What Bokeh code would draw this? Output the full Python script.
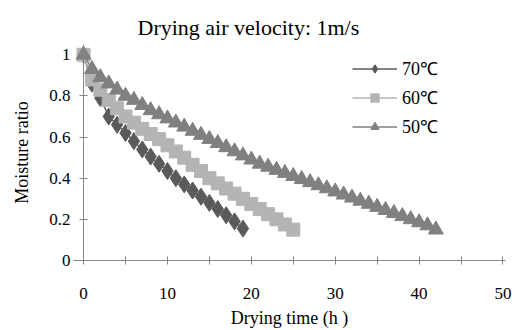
from bokeh.plotting import figure
from bokeh.models import FixedTicker, Range1d, Legend, LegendItem, LinearAxis
from bokeh.embed import file_html
from bokeh.resources import INLINE

hours_70 = list(range(0, 20))
mr_70 = [1.0, 0.86, 0.79, 0.70, 0.66, 0.62, 0.58, 0.54, 0.505, 0.47, 0.435,
         0.40, 0.37, 0.34, 0.31, 0.28, 0.25, 0.22, 0.19, 0.155]

hours_60 = list(range(0, 26))
mr_60 = [1.0, 0.88, 0.83, 0.78, 0.74, 0.70, 0.67, 0.64, 0.615, 0.59, 0.56,
         0.53, 0.50, 0.465, 0.435, 0.40, 0.375, 0.35, 0.325, 0.30, 0.275,
         0.25, 0.225, 0.20, 0.175, 0.15]

hours_50 = list(range(0, 43))
mr_50 = [1.0, 0.93, 0.89, 0.86, 0.83, 0.80, 0.78, 0.755, 0.73, 0.71, 0.69,
         0.67, 0.65, 0.63, 0.61, 0.59, 0.57, 0.55, 0.53, 0.51, 0.49, 0.47,
         0.455, 0.44, 0.425, 0.41, 0.395, 0.38, 0.365, 0.35, 0.335, 0.32,
         0.305, 0.29, 0.275, 0.26, 0.245, 0.23, 0.215, 0.20, 0.185, 0.17, 0.15]

series_labels = ["70\u2103", "60\u2103", "50\u2103"]
x_ticks = [0, 10, 20, 30, 40, 50]
x_minor = [5, 15, 25, 35, 45]
y_ticks = [0, 0.2, 0.4, 0.6, 0.8, 1]
y_tick_labels = ["0", "0.2", "0.4", "0.6", "0.8", "1"]

FONT = "Liberation Serif"
AXIS_COL = "#868686"

p = figure(width=516, height=330, output_backend="svg", toolbar_location=None,
           x_range=Range1d(-1.2, 50.3), y_range=Range1d(0, 1.05),
           min_border_left=73, min_border_right=11, min_border_top=44,
           min_border_bottom=69)
p.outline_line_color = None
p.grid.visible = False
p.background_fill_color = "white"

p.title.text = "Drying air velocity: 1m/s"
p.title.text_font = FONT
p.title.text_font_style = "normal"
p.title.text_font_size = "22px"
p.title.align = "left"
p.title.offset = 64
p.title.text_color = "#000000"

# x axis
xa = p.xaxis[0]
xa.ticker = FixedTicker(ticks=x_ticks, minor_ticks=x_minor)
xa.axis_line_color = AXIS_COL
xa.major_tick_line_color = AXIS_COL
xa.minor_tick_line_color = AXIS_COL
xa.major_tick_in = 4
xa.major_tick_out = 4
xa.minor_tick_in = 4
xa.minor_tick_out = 4
xa.major_label_text_font = FONT
xa.major_label_text_font_size = "17px"
xa.major_label_text_color = "#000000"
xa.axis_label = "Drying time (h )"
xa.axis_label_text_font = FONT
xa.axis_label_text_font_style = "normal"
xa.axis_label_text_font_size = "18px"
xa.axis_label_text_color = "#000000"
xa.major_label_standoff = 23
xa.axis_label_standoff = 6

# left axis: labels only
ya = p.yaxis[0]
ya.ticker = FixedTicker(ticks=y_ticks)
ya.major_label_overrides = {t: l for t, l in zip(y_ticks, y_tick_labels)}
ya.axis_line_color = None
ya.major_tick_line_color = None
ya.minor_tick_line_color = None
ya.major_tick_in = 0
ya.major_tick_out = 0
ya.major_label_standoff = 3
ya.major_label_text_font = FONT
ya.major_label_text_font_size = "17px"
ya.major_label_text_color = "#000000"
ya.axis_label = "Moisture ratio"
ya.axis_label_text_font = FONT
ya.axis_label_text_font_style = "normal"
ya.axis_label_text_font_size = "18px"
ya.axis_label_text_color = "#000000"
ya.axis_label_standoff = 14

# y axis line at x = 0
y0 = LinearAxis(ticker=FixedTicker(ticks=y_ticks), fixed_location=0)
y0.axis_line_color = AXIS_COL
y0.major_tick_line_color = AXIS_COL
y0.minor_tick_line_color = None
y0.major_tick_in = 4
y0.major_tick_out = 4
y0.major_label_text_alpha = 0
y0.major_label_text_font_size = "1px"
p.add_layout(y0, "right")

items = []
l70 = p.line(hours_70, mr_70, line_color="#5a5a5a", line_width=1.5)
s70 = p.scatter(hours_70, mr_70, marker="diamond", size=17, fill_color="#5a5a5a",
                line_color="#5a5a5a")
items.append(LegendItem(label=series_labels[0], renderers=[l70, s70]))
l60 = p.line(hours_60, mr_60, line_color="#b4b4b4", line_width=1.5)
s60 = p.scatter(hours_60, mr_60, marker="square", size=13, fill_color="#b4b4b4",
                line_color="#b4b4b4")
items.append(LegendItem(label=series_labels[1], renderers=[l60, s60]))
l50 = p.line(hours_50, mr_50, line_color="#808080", line_width=1.5)
s50 = p.scatter(hours_50, mr_50, marker="triangle", size=15, fill_color="#808080",
                line_color="#808080")
items.append(LegendItem(label=series_labels[2], renderers=[l50, s50]))

legend = Legend(items=items, location=(279, 122))
legend.border_line_color = None
legend.background_fill_alpha = 0
legend.label_text_font = FONT
legend.label_text_font_size = "18px"
legend.label_text_color = "#000000"
legend.glyph_width = 45
legend.glyph_height = 21
legend.spacing = 5
legend.padding = 4
legend.label_standoff = 5
p.add_layout(legend, "center")

open("out.html", "w").write(file_html(p, INLINE))
